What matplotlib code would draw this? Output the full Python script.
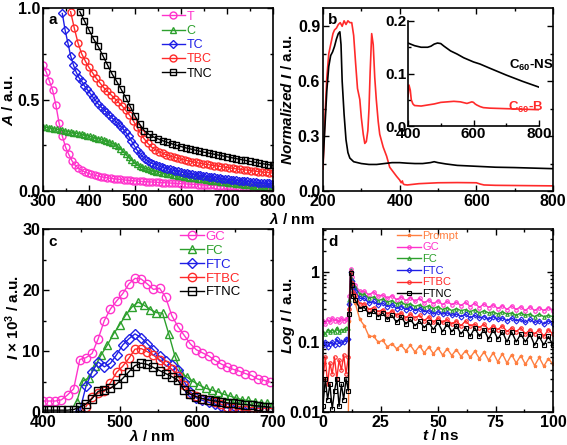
import numpy as np
import matplotlib
matplotlib.use('Agg')
import matplotlib.pyplot as plt
from matplotlib.ticker import MultipleLocator, FixedLocator, FixedFormatter, LogLocator, NullFormatter

plt.rcParams['font.family'] = ['Liberation Sans', 'DejaVu Sans']
plt.rcParams['font.weight'] = 'bold'
plt.rcParams['mathtext.fontset'] = 'custom'
plt.rcParams['mathtext.rm'] = 'Liberation Sans:bold'
plt.rcParams['mathtext.bf'] = 'Liberation Sans:bold'
plt.rcParams['mathtext.it'] = 'Liberation Sans:italic:bold'
plt.rcParams['mathtext.bfit'] = 'Liberation Sans:bold:italic'

MAG = '#FF33CC'; GRN = '#2DA02D'; BLU = '#1F1FE6'; RED = '#FF2A2A'; BLK = '#000000'; ORG = '#FF7F40'

# ---------------- Panel a: absorbance ----------------
a_labels = ['T', 'C', 'TC', 'TBC', 'TNC']
a_T_start, a_T_step = 300, 7
a_T = [.686, .65, .60, .55, .47, .37, .30, .24, .20, .165, .14, .125, .113, .104, .097, .091, .086, .082,
       .078, .075, .072, .069, .067, .065, .063, .061, .059, .058, .056, .055, .053, .052, .051, .050,
       .049, .048, .047, .046, .045, .044, .043, .042, .041, .040, .039, .038, .037, .036, .035, .034,
       .033, .032, .031, .031, .030, .029, .028, .027, .026, .026, .025, .024, .023, .022, .021, .021,
       .020, .019, .018, .017, .017, .016]
a_C_start, a_C_step = 300, 6
a_C = [.350, .348, .346, .343, .340, .337, .334, .331, .328, .325, .322, .319, .316, .313, .310, .306,
       .302, .298, .294, .290, .286, .282, .278, .273, .268, .262, .254, .244, .232, .217, .200, .184,
       .170, .157, .146, .137, .130, .124, .119, .114, .110, .106, .103, .100, .097, .094, .091, .088,
       .085, .082, .080, .077, .075, .073, .071, .069, .067, .065, .063, .061, .059, .057, .055, .053,
       .051, .049, .047, .045, .043, .041, .039, .038, .036, .035, .033, .032, .030, .029, .027, .026,
       .024, .023, .021, .020]
a_TC_start, a_TC_step = 342, 6
a_TC = [.97, .88, .81, .74, .69, .65, .62, .60, .575, .555, .535, .515, .495, .475, .46, .445, .43, .415,
        .40, .385, .37, .355, .34, .32, .30, .275, .25, .225, .205, .19, .175, .165, .155, .148, .142,
        .136, .131, .126, .122, .118, .114, .110, .107, .104, .101, .098, .095, .092, .090, .087, .085,
        .082, .080, .078, .076, .074, .072, .070, .068, .066, .064, .062, .060, .058, .057, .055, .054,
        .052, .051, .049, .048, .046, .045, .044, .042, .041, .040]
a_TBC_start, a_TBC_step = 360, 8
a_TBC = [.98, .89, .81, .75, .71, .675, .645, .615, .59, .565, .545, .525, .505, .485, .465, .44, .415,
         .385, .35, .315, .285, .26, .24, .226, .215, .206, .198, .191, .185, .179, .174, .169, .164,
         .160, .156, .152, .148, .145, .142, .139, .136, .133, .130, .127, .124, .121, .119, .116, .114,
         .111, .109, .106, .104, .102, .100, .098]
a_TNC_start, a_TNC_step = 380, 10
a_TNC = [.98, .93, .88, .83, .79, .74, .69, .64, .60, .555, .51, .46, .41, .365, .33, .31, .295, .285,
         .275, .266, .258, .25, .243, .236, .23, .224, .218, .212, .207, .202, .197, .192, .187, .182,
         .177, .172, .167, .162, .157, .152, .148, .144, .14]

# ---------------- Panel b: normalized intensity ----------------
b_NS_x = [200, 205, 210, 215, 220, 225, 230, 235, 240, 244, 247, 250, 255, 260, 265, 270, 280, 300, 320,
          340, 360, 380, 400, 420, 440, 460, 480, 490, 500, 520, 550, 600, 650, 700, 750, 800]
b_NS_y = [0.15, 0.35, 0.55, 0.68, 0.74, 0.76, 0.79, 0.83, 0.86, 0.87, 0.80, 0.60, 0.42, 0.28, 0.21, 0.18,
          0.16, 0.15, 0.145, 0.145, 0.15, 0.155, 0.155, 0.152, 0.15, 0.15, 0.155, 0.16, 0.155, 0.148,
          0.14, 0.135, 0.13, 0.128, 0.125, 0.122]
b_B_x = [200, 205, 210, 215, 220, 226, 230, 235, 240, 245, 250, 255, 260, 265, 270, 275, 280, 285, 290,
         296, 300, 305, 309, 313, 317, 320, 323, 327, 331, 335, 339, 344, 348, 357, 366, 374, 383, 392,
         400, 404, 407, 409, 412, 420, 450, 500, 550, 600, 610, 620, 650, 700, 800]
b_B_y = [0.12, 0.40, 0.62, 0.75, 0.80, 0.86, 0.88, 0.89, 0.91, 0.92, 0.90, 0.93, 0.91, 0.93, 0.92, 0.92,
         0.85, 0.70, 0.56, 0.50, 0.40, 0.31, 0.26, 0.27, 0.33, 0.45, 0.65, 0.86, 0.80, 0.62, 0.50, 0.38,
         0.31, 0.24, 0.19, 0.13, 0.105, 0.08, 0.06, 0.045, 0.055, 0.04, 0.035, 0.033, 0.04, 0.045, 0.046,
         0.045, 0.038, 0.033, 0.031, 0.03, 0.028]
ins_NS_x = [400, 420, 440, 460, 470, 480, 490, 500, 510, 530, 550, 570, 600, 620, 650, 700, 750, 800]
ins_NS_y = [0.158, 0.153, 0.150, 0.150, 0.152, 0.156, 0.158, 0.157, 0.152, 0.143, 0.137, 0.130, 0.122,
            0.118, 0.110, 0.097, 0.085, 0.074]
ins_B_x = [400, 403, 407, 410, 415, 420, 440, 460, 480, 500, 520, 540, 560, 580, 590, 595, 600, 605, 610,
           620, 630, 650, 700, 750, 800]
ins_B_y = [0.056, 0.078, 0.068, 0.05, 0.042, 0.039, 0.038, 0.040, 0.042, 0.045, 0.046, 0.047, 0.046,
           0.043, 0.045, 0.046, 0.045, 0.042, 0.040, 0.037, 0.035, 0.034, 0.033, 0.032, 0.031]

# ---------------- Panel c: emission ----------------
c_labels = ['GC', 'FC', 'FTC', 'FTBC', 'FTNC']
c_step = 8
c_GC_start = 400
c_GC = [1.8, 1.8, 1.8, 2.0, 2.8, 3.8, 8.6, 8.9, 9.6, 12.0, 15.0, 16.9, 18.2, 19.4, 21.0, 21.9, 21.8, 21.0,
        20.1, 20.3, 18.8, 15.8, 14.0, 12.6, 11.2, 10.2, 9.7, 9.2, 8.5, 7.9, 7.4, 7.0, 6.7, 6.3, 6.0, 5.4,
        5.2, 4.9]
c_FC_start = 444
c_FC = [1.7, 5.1, 5.6, 7.5, 9.4, 11.0, 12.8, 14.3, 15.9, 17.2, 18.0, 17.5, 16.8, 16.3, 16.2, 12.8, 9.2,
        6.4, 5.7, 5.0, 4.4, 3.9, 3.6, 3.3, 2.9, 2.6, 2.3, 2.0, 1.9, 1.7, 1.5, 1.4, 1.3]
c_FTC_start = 448
c_FTC = [0.2, 4.2, 6.6, 8.2, 7.4, 8.0, 9.4, 11.0, 12.0, 12.8, 12.2, 11.2, 10.2, 9.1, 8.4, 7.7, 6.9, 5.0,
         3.3, 2.3, 1.9, 1.6, 1.3, 1.0, 0.7, 0.3, 0.0, 0.0, 0.0, 0.0, 0.0, 0.0]
c_FTBC_start = 456
c_FTBC = [0.9, 2.4, 3.1, 3.4, 4.8, 6.5, 7.5, 8.8, 10.3, 10.4, 9.9, 9.3, 8.6, 7.7, 7.0, 5.9, 4.4, 3.0, 2.6,
          2.2, 1.9, 1.6, 1.3, 0.9, 0.7, 0.4, 0.3, 0.1, 0.0, 0.0, 0.0]
c_FTNC_start = 400
c_FTNC = [0.3, 0.3, 0.3, 0.3, 0.3, 0.4, 0.8, 1.3, 2.2, 3.4, 3.6, 3.9, 4.6, 5.5, 6.6, 7.6, 8.0, 7.8, 7.3,
          6.8, 6.3, 5.8, 5.2, 3.6, 2.9, 2.5, 2.2, 2.0, 1.8, 1.7, 1.5, 1.4, 1.3, 1.2, 1.1, 1.0, 0.9, 0.8]

# ---------------- Panel d: decay ----------------
d_labels = ['Prompt', 'GC', 'FC', 'FTC', 'FTBC', 'FTNC']
d_t = [0, 1, 2, 3, 4, 5, 6, 7, 8, 9, 10, 11, 11.5, 12, 12.5, 13] + list(range(14, 101, 2))
d_Prompt = [.008, .007, .008, .007, .008, .007, .008, .007, .008, .007, .008, .008, .2, 1.0, .75, .5,
            .36, .21, .17, .12, .12, .10, .105, .085, .095, .08, .09, .075, .09, .072, .088, .07, .085, .068,
            .082, .065, .08, .064, .078, .062, .075, .06, .074, .058, .072, .055, .07, .052, .068, .05,
            .066, .05, .064, .048, .062, .046, .06, .045, .058, .048]
d_GC = [.20, .18, .21, .19, .22, .20, .21, .19, .22, .20, .21, .22, .45, 1.1, .85, .68,
        .64, .53, .53, .47, .52, .45, .47, .42, .46, .40, .44, .39, .43, .38, .42, .36, .40, .35, .39,
        .34, .38, .34, .37, .33, .37, .32, .36, .31, .35, .31, .34, .30, .33, .29, .33, .29, .32, .28,
        .32, .28, .31, .28, .31, .28]
d_FC = [.14, .13, .15, .14, .15, .14, .16, .14, .15, .15, .16, .16, .40, 1.05, .80, .63,
        .60, .48, .48, .42, .44, .39, .41, .37, .39, .35, .37, .34, .35, .32, .34, .31, .33, .30, .32,
        .29, .31, .28, .30, .28, .29, .27, .29, .26, .28, .26, .27, .25, .27, .25, .26, .24, .26, .24,
        .25, .23, .25, .23, .24, .23]
d_FTC = [.09, .10, .085, .095, .10, .09, .11, .095, .10, .10, .11, .11, .35, 1.0, .75, .58,
         .54, .42, .42, .36, .38, .34, .36, .32, .34, .30, .32, .29, .31, .28, .30, .27, .28, .25, .27,
         .25, .26, .24, .25, .23, .25, .22, .24, .22, .23, .21, .23, .21, .22, .20, .22, .20, .21, .19,
         .21, .19, .20, .18, .20, .18]
d_FTBC = [.03, .06, .025, .05, .035, .06, .03, .055, .04, .065, .035, .06, .30, 1.0, .70, .52,
          .47, .35, .35, .29, .31, .27, .29, .25, .28, .24, .26, .22, .25, .22, .24, .20, .23, .19, .22,
          .19, .21, .18, .20, .17, .20, .17, .18, .16, .18, .15, .17, .15, .17, .14, .16, .14, .16, .13,
          .15, .13, .15, .12, .15, .13]
d_FTNC = [.012, .03, .015, .025, .011, .02, .03, .012, .025, .015, .03, .02, .25, .95, .65, .45,
          .40, .30, .31, .25, .28, .23, .26, .21, .24, .19, .23, .18, .21, .17, .20, .16, .19, .15, .19,
          .14, .18, .14, .17, .13, .16, .12, .16, .12, .15, .11, .15, .11, .14, .10, .14, .10, .13, .10,
          .13, .09, .12, .09, .12, .09]

W, H = 567, 445
fig = plt.figure(figsize=(W / 100, H / 100), dpi=100)
TL = 11.5


def px_axes(l, r, t, b):
    return fig.add_axes([l / W, 1 - b / H, (r - l) / W, (b - t) / H])


def style(ax, top=True, right=True):
    ax.tick_params(which='both', direction='in', top=top, right=right, labelsize=TL, width=1)
    ax.tick_params(which='major', length=4, pad=2)
    ax.tick_params(which='minor', length=2)
    for s in ax.spines.values():
        s.set_linewidth(1.2)


def color_legend(lg):
    for t, h in zip(lg.get_texts(), lg.get_lines()):
        t.set_color(h.get_color())


# ---- a
axa = px_axes(43, 273, 8, 191)
for lab, start, step, vals, col, mk, ms in [
        ('T', a_T_start, a_T_step, a_T, MAG, 'o', 5),
        ('C', a_C_start, a_C_step, a_C, GRN, '^', 5),
        ('TC', a_TC_start, a_TC_step, a_TC, BLU, 'D', 4.2),
        ('TBC', a_TBC_start, a_TBC_step, a_TBC, RED, 'o', 5),
        ('TNC', a_TNC_start, a_TNC_step, a_TNC, BLK, 's', 4.8)]:
    x = start + step * np.arange(len(vals))
    axa.plot(x, vals, color=col, marker=mk, ms=ms, mfc='none', mew=1, lw=1, label=lab)
axa.set_xlim(300, 800); axa.set_ylim(0, 1.0)
axa.xaxis.set_major_locator(MultipleLocator(100)); axa.xaxis.set_minor_locator(MultipleLocator(50))
axa.yaxis.set_major_locator(MultipleLocator(0.5)); axa.yaxis.set_minor_locator(MultipleLocator(0.25))
axa.yaxis.set_major_formatter(plt.FormatStrFormatter('%.1f'))
style(axa)
lg = axa.legend(loc='upper left', bbox_to_anchor=((162 - 43) / 230, 0.985), frameon=False, borderpad=0,
                borderaxespad=0, handlelength=1.8, handletextpad=0.15, labelspacing=0.18, numpoints=1,
                prop={'size': 9, 'weight': 'normal'})
color_legend(lg)
axa.text(0.022, 0.934, 'a', transform=axa.transAxes, fontsize=11, fontweight='bold', va='center')

# ---- b
axb = px_axes(323, 553, 8, 191)
axb.plot(b_B_x, b_B_y, color=RED, lw=1.2)
axb.plot(b_NS_x, b_NS_y, color=BLK, lw=1.2)
axb.set_xlim(200, 800); axb.set_ylim(0, 1.0)
axb.xaxis.set_major_locator(MultipleLocator(200)); axb.xaxis.set_minor_locator(MultipleLocator(100))
axb.yaxis.set_major_locator(FixedLocator([0, 0.3, 0.6, 0.9]))
axb.yaxis.set_major_formatter(plt.FormatStrFormatter('%.1f'))
axb.yaxis.set_minor_locator(MultipleLocator(0.15))
style(axb)
axb.text(0.022, 0.934, 'b', transform=axb.transAxes, fontsize=11, fontweight='bold', va='center')

axi = px_axes(408, 539, 21, 126)
axi.plot(ins_NS_x, ins_NS_y, color=BLK, lw=1.2)
axi.plot(ins_B_x, ins_B_y, color=RED, lw=1.2)
axi.set_xlim(400, 800); axi.set_ylim(0, 0.2)
axi.xaxis.set_major_locator(MultipleLocator(200)); axi.xaxis.set_minor_locator(MultipleLocator(100))
axi.yaxis.set_major_locator(MultipleLocator(0.1)); axi.yaxis.set_minor_locator(MultipleLocator(0.05))
axi.yaxis.set_major_formatter(plt.FormatStrFormatter('%.1f'))
style(axi, top=False, right=False)
axi.tick_params(labelsize=11, pad=1)
axi.spines['top'].set_visible(False); axi.spines['right'].set_visible(False)
axi.patch.set_alpha(0)
axi.text(0.77, 0.58, r'C$_{\mathbf{60}}$-NS', transform=axi.transAxes, fontsize=9.5, color=BLK, va='center')
axi.text(0.765, 0.18, r'C$_{\mathbf{60}}$-B', transform=axi.transAxes, fontsize=9.5, color=RED, va='center')

# ---- c
axc = px_axes(43, 273, 229, 412)
for lab, start, vals, col, mk, ms in [
        ('GC', c_GC_start, c_GC, MAG, 'o', 6),
        ('FC', c_FC_start, c_FC, GRN, '^', 6),
        ('FTC', c_FTC_start, c_FTC, BLU, 'D', 5),
        ('FTBC', c_FTBC_start, c_FTBC, RED, 'o', 6),
        ('FTNC', c_FTNC_start, c_FTNC, BLK, 's', 5.5)]:
    x = start + c_step * np.arange(len(vals))
    axc.plot(x, vals, color=col, marker=mk, ms=ms, mfc='none', mew=1, lw=1, label=lab)
axc.set_xlim(400, 700); axc.set_ylim(0, 30)
axc.xaxis.set_major_locator(MultipleLocator(100)); axc.xaxis.set_minor_locator(MultipleLocator(50))
axc.yaxis.set_major_locator(MultipleLocator(10)); axc.yaxis.set_minor_locator(MultipleLocator(5))
style(axc)
lg = axc.legend(loc='upper left', bbox_to_anchor=((180 - 43) / 230, 0.99), frameon=False, borderpad=0,
                borderaxespad=0, handlelength=1.8, handletextpad=0.15, labelspacing=0.12, numpoints=1,
                prop={'size': 9.5, 'weight': 'normal'})
color_legend(lg)
axc.text(0.022, 0.93, 'c', transform=axc.transAxes, fontsize=11, fontweight='bold', va='center')

# ---- d
axd = px_axes(323, 553, 229, 412)
for lab, vals, col, mk in [('Prompt', d_Prompt, ORG, '*'), ('GC', d_GC, MAG, 'o'), ('FC', d_FC, GRN, '^'),
                           ('FTC', d_FTC, BLU, 'D'), ('FTBC', d_FTBC, RED, 'o'), ('FTNC', d_FTNC, BLK, 's')]:
    axd.plot(d_t, vals, color=col, marker=mk, ms=2.5, mfc='none', mew=0.8, lw=1, label=lab)
axd.set_yscale('log')
axd.set_xlim(0, 100); axd.set_ylim(0.01, 4.1)
axd.xaxis.set_major_locator(MultipleLocator(25)); axd.xaxis.set_minor_locator(MultipleLocator(12.5))
axd.yaxis.set_major_locator(FixedLocator([0.01, 0.1, 1]))
axd.yaxis.set_major_formatter(FixedFormatter(['0.01', '0.1', '1']))
axd.yaxis.set_minor_locator(LogLocator(base=10, subs=np.arange(2, 10)))
axd.yaxis.set_minor_formatter(NullFormatter())
style(axd)
lg = axd.legend(loc='upper left', bbox_to_anchor=((397 - 323) / 230, 0.99), frameon=False, borderpad=0,
                borderaxespad=0, handlelength=2.2, handletextpad=0.1, labelspacing=0.15, numpoints=1,
                prop={'size': 8, 'weight': 'normal'})
color_legend(lg)
axd.text(0.022, 0.93, 'd', transform=axd.transAxes, fontsize=11, fontweight='bold', va='center')

# ---- axis labels
fs = 11
fig.text(9 / W, 1 - 100 / H, r'$\mathbfit{A}$ / a.u.', rotation=90, ha='center', va='center', fontsize=fs)
fig.text(288 / W, 1 - 100 / H, r'$\mathbfit{Normalized\ I}$ / a.u.', rotation=90, ha='center', va='center', fontsize=fs)
fig.text(13 / W, 1 - 318 / H, r'$\mathbfit{I}$ × 10$^{\mathbf{3}}$ / a.u.', rotation=90, ha='center', va='center', fontsize=fs)
fig.text(288 / W, 1 - 316 / H, r'$\mathbfit{Log\ I}$ / a.u.', rotation=90, ha='center', va='center', fontsize=fs)
fig.text(292 / W, 1 - 219 / H, r'$\mathbfit{λ}$ / nm', ha='center', va='center', fontsize=fs)
fig.text(152 / W, 1 - 436 / H, r'$\mathbfit{λ}$ / nm', ha='center', va='center', fontsize=fs)
fig.text(440 / W, 1 - 436 / H, r'$\mathbfit{t}$ / ns', ha='center', va='center', fontsize=fs)

fig.savefig('out.png', dpi=100)
